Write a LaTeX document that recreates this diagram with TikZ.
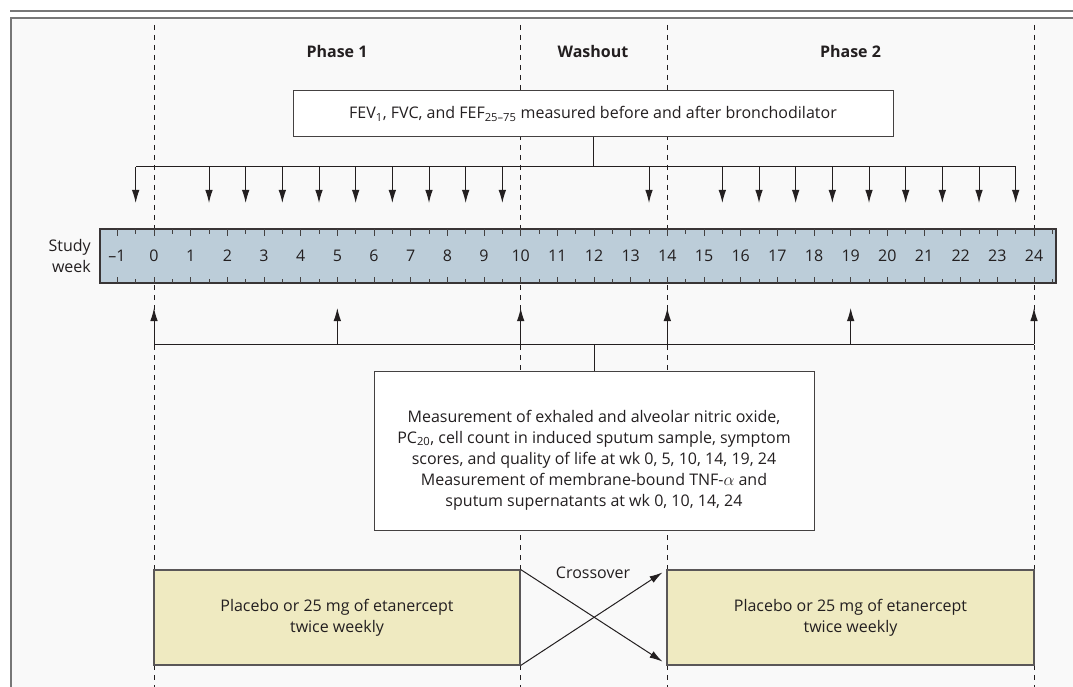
\documentclass[tikz,border=0pt]{standalone}
\usepackage{fontspec}
\setmainfont{Open Sans}
\usetikzlibrary{arrows.meta}
\definecolor{bgfill}{HTML}{F9F9F9}
\definecolor{framegray}{HTML}{777777}
\definecolor{barfill}{HTML}{BCCDD9}
\definecolor{yelfill}{HTML}{EFEAC1}
\definecolor{ink}{HTML}{231F20}
\tikzset{
  frameline/.style={draw=framegray, line width=2.2pt},
  vdash/.style={draw=ink, dash pattern=on 5pt off 5pt, line width=0.9pt},
  conn/.style={draw=ink, line width=1pt},
  arr/.style={conn, -{Latex[length=13pt,width=7.5pt]}},
  tick/.style={draw=ink!85, line width=0.9pt},
  whitebox/.style={draw=ink!85, fill=white, line width=1pt, inner sep=0pt},
  yellowbox/.style={draw=ink!75, fill=yelfill, line width=1.1pt, align=center,
    font=\fontsize{16}{21}\selectfont, text=ink, inner sep=0pt},
  barbox/.style={draw=ink!90, fill=barfill, line width=1.2pt, inner sep=0pt},
  hdr/.style={font=\bfseries\fontsize{16}{18}\selectfont, text=ink},
  txt/.style={font=\fontsize{16}{21}\selectfont, text=ink, align=center, inner sep=0pt},
}
\begin{document}
\begin{tikzpicture}[x=1pt,y=-1pt]
\useasboundingbox (0,0) rectangle (1073,687);
\fill[white] (0,0) rectangle (1073,687);
\fill[bgfill] (11,18) rectangle (1073,687);
\draw[frameline] (10,11) -- (1073,11);
\draw[frameline] (1073,18) -- (11,18) -- (11,687);

% dashed phase boundaries
\foreach \w in {0,10,14,24}{
  \coordinate (dt\w) at ({154+36.667*\w},25);
  \coordinate (db\w) at ({154+36.667*\w},687);
  \draw[vdash] (dt\w) -- (db\w);
}

% headers
\node[hdr] (ph1) at (337,52) {Phase 1};
\node[hdr] (wash) at (593,52) {Washout};
\node[hdr] (ph2) at (850.5,52) {Phase 2};

% top box
\node[whitebox, minimum width=600pt, minimum height=46pt, txt] (fev) at (593,114)
  {FEV\textsubscript{1}, FVC, and FEF\textsubscript{25–75} measured before and after bronchodilator};

% top arrows
\coordinate (tjoin) at (593,167);
\coordinate (tl) at (136,167);
\coordinate (tr) at (1016,167);
\draw[conn] (fev.south) -- (tjoin);
\draw[conn] (tl) -- (tr);
\foreach \w [count=\k] in {-0.5,1.5,2.5,3.5,4.5,5.5,6.5,7.5,8.5,9.5,13.5,15.5,16.5,17.5,18.5,19.5,20.5,21.5,22.5,23.5}{
  \coordinate (ta\k) at ({154+36.667*\w},167);
  \coordinate (tb\k) at ({154+36.667*\w},203);
  \draw[arr] (ta\k) -- (tb\k);
}

% timeline bar
\node[barbox, minimum width=956pt, minimum height=54pt] (bar) at (578,256) {};
\foreach \i in {-2,...,49}{
  \pgfmathsetmacro{\xx}{154+18.3333*\i}
  \ifodd\i
    \draw[tick] (\xx,229) -- (\xx,233.5);
    \draw[tick] (\xx,283) -- (\xx,278.5);
  \else
    \draw[tick] (\xx,229) -- (\xx,235.5);
    \draw[tick] (\xx,283) -- (\xx,276.5);
  \fi
}
\node[txt] (wkm1) at (117,256) {–1};
\foreach \w in {0,...,24}{
  \node[txt] (wk\w) at ({154+36.667*\w},256) {\w};
}
\node[txt, anchor=east, align=right] (sw) at (91,256) {Study\\week};

% bottom arrows
\coordinate (bl) at (154,344);
\coordinate (br) at (1034,344);
\coordinate (bjoin) at (594,344);
\draw[conn] (bl) -- (br);
\foreach \w in {0,5,10,14,19,24}{
  \coordinate (ba\w) at ({154+36.667*\w},344);
  \coordinate (bb\w) at ({154+36.667*\w},308);
  \draw[arr] (ba\w) -- (bb\w);
}

% measurement box
\node[whitebox, minimum width=440pt, minimum height=159pt] (meas) at (594,450.5) {};
\draw[conn] (bjoin) -- (meas.north);
\node[txt] (meastxt) at (594,460) {Measurement of exhaled and alveolar nitric oxide,\\
PC\textsubscript{20}, cell count in induced sputum sample, symptom\\
scores, and quality of life at wk 0, 5, 10, 14, 19, 24\\
Measurement of membrane-bound TNF-$\alpha$ and\\
sputum supernatants at wk 0, 10, 14, 24};

% treatment boxes
\node[yellowbox, minimum width=366pt, minimum height=95pt] (lb) at (337,617.5)
  {Placebo or 25 mg of etanercept\\twice weekly};
\node[yellowbox, minimum width=367pt, minimum height=95pt] (rb) at (850.5,617.5)
  {Placebo or 25 mg of etanercept\\twice weekly};
\node[txt] (cross) at (593,573) {Crossover};
\draw[arr] (lb.north east) -- ([xshift=-4pt,yshift=4pt]rb.south west);
\draw[arr] (lb.south east) -- ([xshift=-4pt,yshift=-3pt]rb.north west);
\end{tikzpicture}
\end{document}
